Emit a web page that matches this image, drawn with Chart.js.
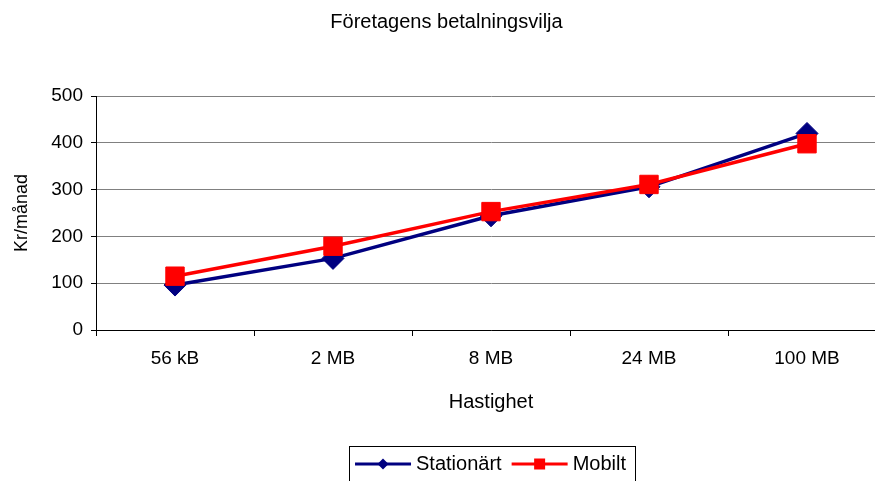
<!DOCTYPE html>
<html><head><meta charset="utf-8">
<script src="https://cdn.jsdelivr.net/npm/chart.js@4/dist/chart.umd.min.js"></script>
<style>
html,body{margin:0;padding:0;overflow:hidden;background:#fff;width:875px;height:481px}
#wrap{position:absolute;left:0;top:0;width:900px;height:500px}
</style></head><body>
<div id="wrap"><canvas id="c" width="900" height="500"></canvas></div>
<script>
const titleText = 'Företagens betalningsvilja';
const xTitle = 'Hastighet';
const yTitle = 'Kr/månad';
const categories = ['56 kB', '2 MB', '8 MB', '24 MB', '100 MB'];
const seriesNames = ['Stationärt', 'Mobilt'];
const stationart = [96, 153, 244, 306, 420];
const mobilt = [115, 179, 253, 311, 398];
const yMin = 0, yMax = 500, yStep = 100;

const FONT = 'Liberation Sans, Arial, sans-serif';
const NAVY = '#000080', RED = '#FF0000';

const legendDecor = {
  id: 'legendDecor',
  afterLayout(chart) {
    const lg = chart.legend;
    if (lg) { lg.left += 44; lg.right += 44; }
  },
  afterDraw(chart) {
    const lg = chart.legend;
    if (!lg || !lg.legendHitBoxes || !lg.legendHitBoxes.length) return;
    const ctx = chart.ctx;
    const hbs = lg.legendHitBoxes;
    const styles = [
      {color: NAVY, shape: 'diamond'},
      {color: RED, shape: 'square'}
    ];
    ctx.save();
    hbs.forEach((hb, i) => {
      const st = styles[i];
      const cy = hb.top + hb.height / 2;
      const x0 = hb.left, x1 = hb.left + 56;
      ctx.strokeStyle = st.color;
      ctx.lineWidth = 3;
      ctx.beginPath(); ctx.moveTo(x0, cy); ctx.lineTo(x1, cy); ctx.stroke();
      const cx = (x0 + x1) / 2;
      ctx.fillStyle = st.color;
      ctx.beginPath();
      if (st.shape === 'diamond') {
        ctx.moveTo(cx, cy - 5.5); ctx.lineTo(cx + 5.5, cy); ctx.lineTo(cx, cy + 5.5); ctx.lineTo(cx - 5.5, cy);
        ctx.closePath();
      } else {
        ctx.rect(cx - 5.5, cy - 5.5, 11, 11);
      }
      ctx.fill();
    });
    const first = hbs[0], last = hbs[hbs.length - 1];
    const bl = Math.round(first.left - 6) + 0.5;
    const br = Math.round(last.left + last.width + 9) + 0.5;
    const bt = Math.round(first.top - 8) + 0.5;
    ctx.strokeStyle = '#000';
    ctx.lineWidth = 1;
    ctx.strokeRect(bl, bt, br - bl, 60);
    ctx.restore();
  }
};

new Chart(document.getElementById('c'), {
  type: 'line',
  data: {
    labels: categories,
    datasets: [
      {
        label: seriesNames[0], data: stationart, order: 1,
        borderColor: NAVY, backgroundColor: NAVY, borderWidth: 3.5,
        pointStyle: 'rectRot', pointRadius: 11, pointBorderWidth: 1,
        pointBackgroundColor: NAVY, pointBorderColor: NAVY, tension: 0
      },
      {
        label: seriesNames[1], data: mobilt, order: 0,
        borderColor: RED, backgroundColor: RED, borderWidth: 3.5,
        pointStyle: 'rect', pointRadius: 13, pointBorderWidth: 1,
        pointBackgroundColor: RED, pointBorderColor: RED, tension: 0
      }
    ]
  },
  options: {
    responsive: false,
    animation: false,
    devicePixelRatio: 1,
    layout: {padding: {left: 0, right: 7, top: 0, bottom: 16}},
    plugins: {
      title: {
        display: true, text: titleText, color: '#000',
        font: {family: FONT, size: 20, weight: 'normal'},
        padding: {top: 10, bottom: 62}
      },
      legend: {
        display: true, position: 'bottom',
        labels: {
          color: '#000', font: {family: FONT, size: 20},
          boxWidth: 51, boxHeight: 20, padding: 10,
          generateLabels: (chart) => chart.data.datasets.map((ds, i) => ({
            text: ds.label, datasetIndex: i,
            fillStyle: 'rgba(0,0,0,0)', strokeStyle: 'rgba(0,0,0,0)', lineWidth: 0,
            fontColor: '#000', hidden: false
          }))
        }
      },
      tooltip: {enabled: false}
    },
    scales: {
      x: {
        type: 'category',
        offset: true,
        grid: {offset: true, drawOnChartArea: false, drawTicks: true, tickLength: 6, tickColor: '#000', color: '#000'},
        border: {color: '#000', width: 1},
        ticks: {color: '#000', font: {family: FONT, size: 19}, padding: 11, maxRotation: 0, autoSkip: false},
        title: {display: true, text: xTitle, color: '#000', font: {family: FONT, size: 20}, padding: {top: 0, bottom: 30}},
        afterFit(scale) { scale.height = 114; }
      },
      y: {
        min: yMin, max: yMax,
        grid: {color: '#808080', lineWidth: 1, tickLength: 5, tickColor: '#000'},
        border: {color: '#000', width: 1},
        ticks: {stepSize: yStep, color: '#000', font: {family: FONT, size: 19}, padding: 8},
        title: {display: true, text: yTitle, color: '#000', font: {family: FONT, size: 18}, padding: {top: 11, bottom: 0}},
        afterFit(scale) { scale.width = 96; }
      }
    }
  },
  plugins: [legendDecor]
});
</script>
</body></html>
